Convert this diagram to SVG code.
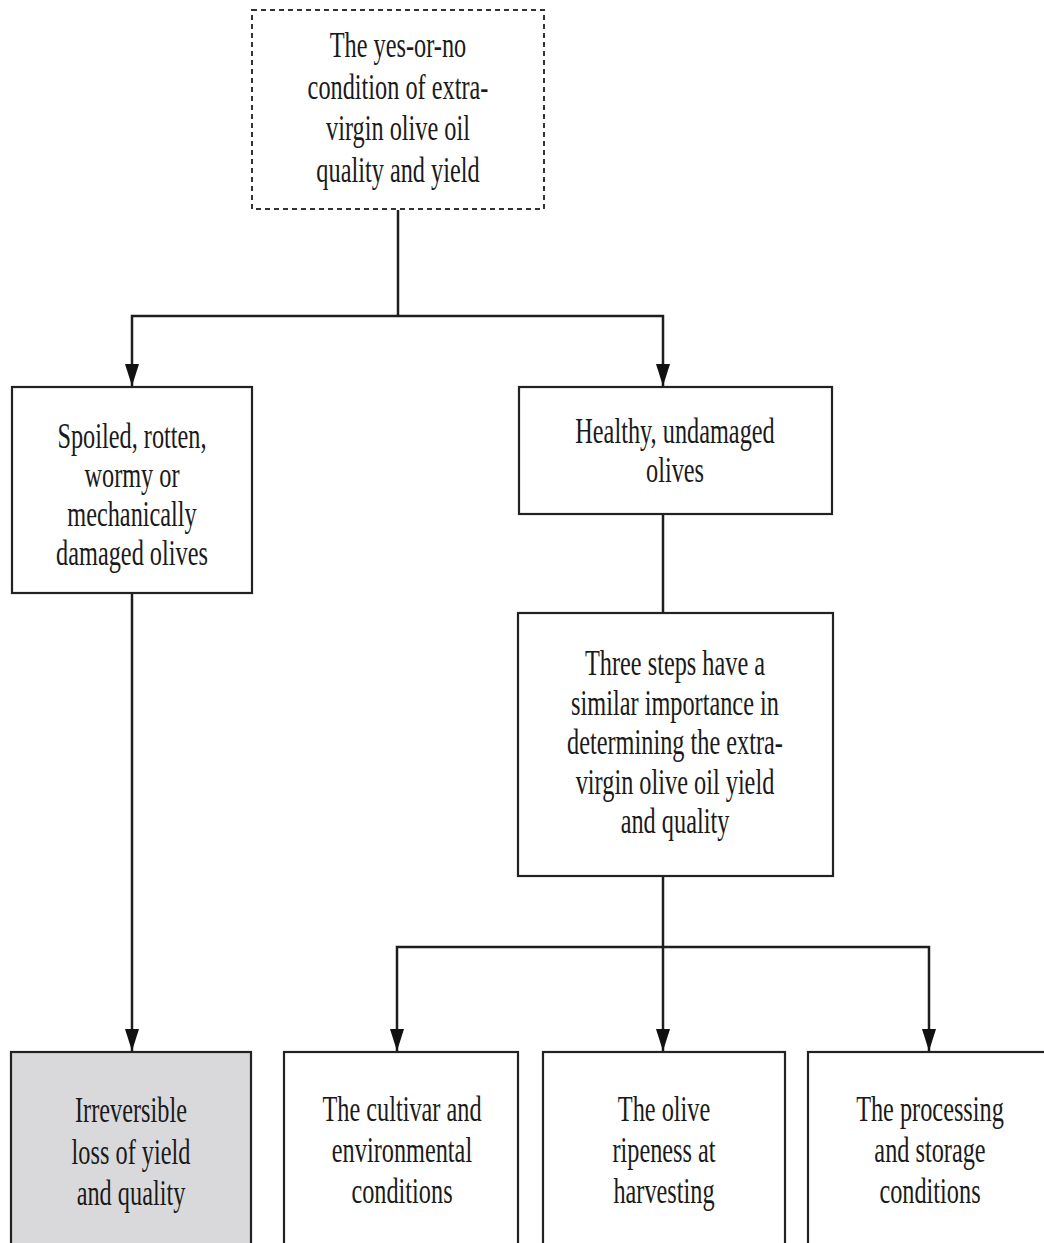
<svg xmlns="http://www.w3.org/2000/svg" width="1044" height="1243" viewBox="0 0 1044 1243">
<style>
.box{fill:#ffffff;stroke:#222222;stroke-width:2.2}
.dash{fill:#ffffff;stroke:#333333;stroke-width:2;stroke-dasharray:5 4}
.grey{fill:#d9d9db;stroke:#222222;stroke-width:2.2}
.t{font-family:"Liberation Serif","Times New Roman",serif;font-size:36px;fill:#1a1a1a;text-anchor:middle}
.c{fill:none;stroke:#1e1e1e;stroke-width:2.5}
</style>
<defs>
<marker id="ah" viewBox="0 0 22 14" refX="22" refY="7" markerWidth="22" markerHeight="14" markerUnits="userSpaceOnUse" orient="auto">
<path d="M0,0 L22,7 L0,14 Z" fill="#111111"/>
</marker>
</defs>
<rect width="1044" height="1243" fill="#ffffff"/>
<g id="connectors">
<path class="c" d="M398,210 V316"/>
<path class="c" d="M398,316 H132 V386" marker-end="url(#ah)"/>
<path class="c" d="M398,316 H663 V386" marker-end="url(#ah)"/>
<path class="c" d="M663,514 V613"/>
<path class="c" d="M132,593 V1051" marker-end="url(#ah)"/>
<path class="c" d="M663,876 V947"/>
<path class="c" d="M663,947 H397 V1051" marker-end="url(#ah)"/>
<path class="c" d="M663,947 V1051" marker-end="url(#ah)"/>
<path class="c" d="M663,947 H929 V1051" marker-end="url(#ah)"/>
</g>
<g id="n-top">
<rect class="dash" x="252" y="10" width="292" height="199"/>
<g transform="translate(398 0) scale(0.675 1)">
<text class="t" x="0" y="57">The yes-or-no</text>
<text class="t" x="0" y="99">condition of extra-</text>
<text class="t" x="0" y="140">virgin olive oil</text>
<text class="t" x="0" y="182">quality and yield</text>
</g>
</g>
<g id="n-spoiled">
<rect class="box" x="12" y="387" width="240" height="206"/>
<g transform="translate(132 0) scale(0.675 1)">
<text class="t" x="0" y="448">Spoiled, rotten,</text>
<text class="t" x="0" y="487">wormy or</text>
<text class="t" x="0" y="526">mechanically</text>
<text class="t" x="0" y="565">damaged olives</text>
</g>
</g>
<g id="n-healthy">
<rect class="box" x="519" y="387" width="313" height="127"/>
<g transform="translate(675 0) scale(0.675 1)">
<text class="t" x="0" y="443">Healthy, undamaged</text>
<text class="t" x="0" y="482">olives</text>
</g>
</g>
<g id="n-three">
<rect class="box" x="518" y="613" width="315" height="263"/>
<g transform="translate(675 0) scale(0.675 1)">
<text class="t" x="0" y="675">Three steps have a</text>
<text class="t" x="0" y="715">similar importance in</text>
<text class="t" x="0" y="754">determining the extra-</text>
<text class="t" x="0" y="794">virgin olive oil yield</text>
<text class="t" x="0" y="833">and quality</text>
</g>
</g>
<g id="n-irreversible">
<rect class="grey" x="11" y="1052" width="240" height="210"/>
<g transform="translate(131 0) scale(0.675 1)">
<text class="t" x="0" y="1122">Irreversible</text>
<text class="t" x="0" y="1164">loss of yield</text>
<text class="t" x="0" y="1205">and quality</text>
</g>
</g>
<g id="n-cultivar">
<rect class="box" x="284" y="1052" width="234" height="210"/>
<g transform="translate(402 0) scale(0.675 1)">
<text class="t" x="0" y="1121">The cultivar and</text>
<text class="t" x="0" y="1162">environmental</text>
<text class="t" x="0" y="1203">conditions</text>
</g>
</g>
<g id="n-ripeness">
<rect class="box" x="543" y="1052" width="242" height="210"/>
<g transform="translate(664 0) scale(0.675 1)">
<text class="t" x="0" y="1121">The olive</text>
<text class="t" x="0" y="1162">ripeness at</text>
<text class="t" x="0" y="1203">harvesting</text>
</g>
</g>
<g id="n-processing">
<rect class="box" x="808" y="1052" width="250" height="210"/>
<g transform="translate(930 0) scale(0.675 1)">
<text class="t" x="0" y="1121">The processing</text>
<text class="t" x="0" y="1162">and storage</text>
<text class="t" x="0" y="1203">conditions</text>
</g>
</g>
</svg>
